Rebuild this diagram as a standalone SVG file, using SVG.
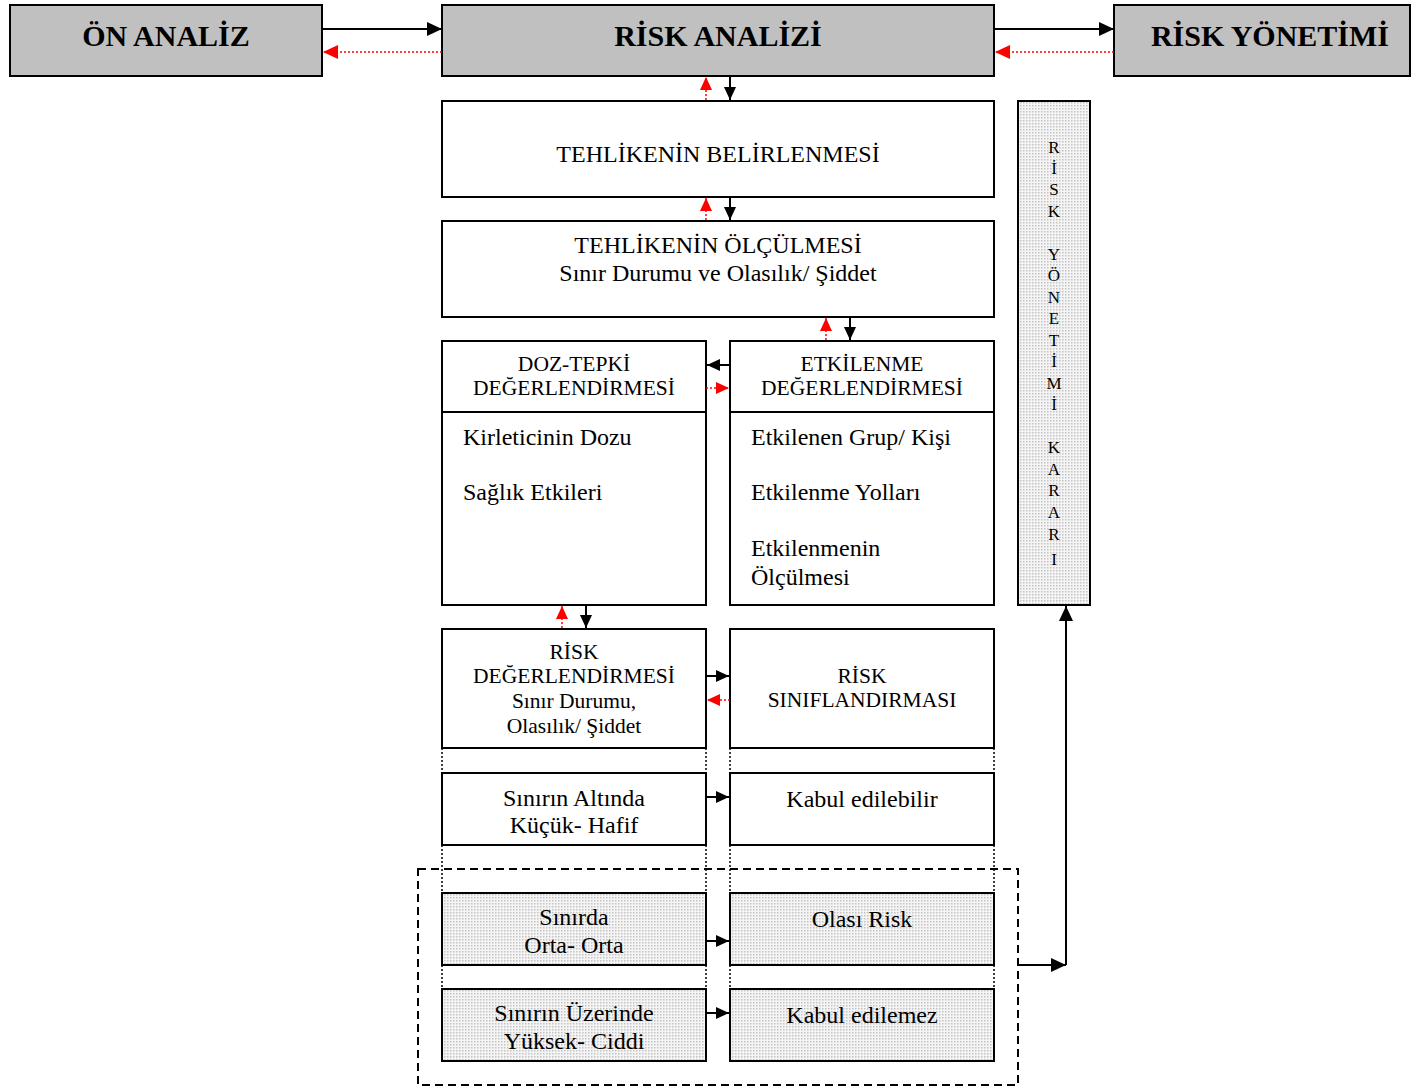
<svg xmlns="http://www.w3.org/2000/svg" width="1412" height="1087" viewBox="0 0 1412 1087">
  <defs>
    <marker id="ah" markerUnits="userSpaceOnUse" markerWidth="16" markerHeight="14" refX="15" refY="7" orient="auto">
      <path d="M0,0 L15,7 L0,14 z" fill="#000"/>
    </marker>
    <marker id="ahs" markerUnits="userSpaceOnUse" markerWidth="14" markerHeight="14" refX="13" refY="7" orient="auto">
      <path d="M0,1 L13,7 L0,13 z" fill="#000"/>
    </marker>
    <marker id="ahr" markerUnits="userSpaceOnUse" markerWidth="16" markerHeight="14" refX="15" refY="7" orient="auto">
      <path d="M0,0 L15,7 L0,14 z" fill="#ff0000"/>
    </marker>
    <marker id="ahrs" markerUnits="userSpaceOnUse" markerWidth="14" markerHeight="14" refX="13" refY="7" orient="auto">
      <path d="M0,1 L13,7 L0,13 z" fill="#ff0000"/>
    </marker>
    <pattern id="dots" width="3" height="3" patternUnits="userSpaceOnUse">
      <rect width="3" height="3" fill="#f4f4f4"/>
      <rect x="0" y="0" width="1.5" height="1.5" fill="#c4c4c4"/>
    </pattern>
  </defs>
  <style>
    .hdr { fill: #c0c0c0; stroke: #000; stroke-width: 2; }
    .box { fill: #fff; stroke: #000; stroke-width: 2; }
    .dot { fill: url(#dots); stroke: #000; stroke-width: 2; }
    .sep { stroke: #000; stroke-width: 2; fill: none; }
    .t { font-family: "Liberation Serif", "Times New Roman", serif; fill: #000; }
    .th { font-size: 30px; font-weight: bold; text-anchor: middle; }
    .tm { font-size: 24px; text-anchor: middle; }
    .ts { font-size: 21.5px; text-anchor: middle; }
    .tl { font-size: 24px; }
    .tv { font-size: 17px; text-anchor: middle; }
    .blk { stroke: #000; stroke-width: 2; fill: none; }
    .red { stroke: #ff0000; stroke-width: 1.5; stroke-dasharray: 2 2; fill: none; }
    .dotline { stroke: #000; stroke-width: 1.5; stroke-dasharray: 2 2; fill: none; }
    .dash { stroke: #000; stroke-width: 2; stroke-dasharray: 8 5; fill: none; }
  </style>

  <!-- header row -->
  <g id="on-analiz">
    <rect class="hdr" x="10" y="5" width="312" height="71"/>
    <text class="t th" x="166" y="46">ÖN ANALİZ</text>
  </g>
  <g id="risk-analizi">
    <rect class="hdr" x="442" y="5" width="552" height="71"/>
    <text class="t th" x="718" y="46">RİSK ANALİZİ</text>
  </g>
  <g id="risk-yonetimi">
    <rect class="hdr" x="1114" y="5" width="296" height="71"/>
    <text class="t th" x="1270" y="46">RİSK YÖNETİMİ</text>
  </g>

  <!-- hazard identification -->
  <g id="tehlike-belirlenmesi">
    <rect class="box" x="442" y="101" width="552" height="96"/>
    <text class="t tm" x="718" y="162">TEHLİKENİN BELİRLENMESİ</text>
  </g>
  <g id="tehlike-olculmesi">
    <rect class="box" x="442" y="221" width="552" height="96"/>
    <text class="t tm" x="718" y="253">TEHLİKENİN ÖLÇÜLMESİ</text>
    <text class="t tm" x="718" y="281">Sınır Durumu ve Olasılık/ Şiddet</text>
  </g>

  <!-- dose-response and exposure assessment -->
  <g id="doz-tepki">
    <rect class="box" x="442" y="341" width="264" height="264"/>
    <line class="sep" x1="442" y1="412" x2="706" y2="412"/>
    <text class="t ts" x="574" y="371">DOZ-TEPKİ</text>
    <text class="t ts" x="574" y="395">DEĞERLENDİRMESİ</text>
    <text class="t tl" x="463" y="445">Kirleticinin Dozu</text>
    <text class="t tl" x="463" y="500">Sağlık Etkileri</text>
  </g>
  <g id="etkilenme">
    <rect class="box" x="730" y="341" width="264" height="264"/>
    <line class="sep" x1="730" y1="412" x2="994" y2="412"/>
    <text class="t ts" x="862" y="371">ETKİLENME</text>
    <text class="t ts" x="862" y="395">DEĞERLENDİRMESİ</text>
    <text class="t tl" x="751" y="445">Etkilenen Grup/ Kişi</text>
    <text class="t tl" x="751" y="500">Etkilenme Yolları</text>
    <text class="t tl" x="751" y="556">Etkilenmenin</text>
    <text class="t tl" x="751" y="585">Ölçülmesi</text>
  </g>

  <!-- risk evaluation and classification -->
  <g id="risk-degerlendirmesi">
    <rect class="box" x="442" y="629" width="264" height="119"/>
    <text class="t ts" x="574" y="659">RİSK</text>
    <text class="t ts" x="574" y="683">DEĞERLENDİRMESİ</text>
    <text class="t ts" x="574" y="708">Sınır Durumu,</text>
    <text class="t ts" x="574" y="733">Olasılık/ Şiddet</text>
  </g>
  <g id="risk-siniflandirmasi">
    <rect class="box" x="730" y="629" width="264" height="119"/>
    <text class="t ts" x="862" y="683">RİSK</text>
    <text class="t ts" x="862" y="707">SINIFLANDIRMASI</text>
  </g>

  <!-- result levels -->
  <g id="sinirin-altinda">
    <rect class="box" x="442" y="773" width="264" height="72"/>
    <text class="t tm" x="574" y="806">Sınırın Altında</text>
    <text class="t tm" x="574" y="833">Küçük- Hafif</text>
  </g>
  <g id="kabul-edilebilir">
    <rect class="box" x="730" y="773" width="264" height="72"/>
    <text class="t tm" x="862" y="807">Kabul edilebilir</text>
  </g>
  <g id="sinirda">
    <rect class="dot" x="442" y="893" width="264" height="72"/>
    <text class="t tm" x="574" y="925">Sınırda</text>
    <text class="t tm" x="574" y="953">Orta- Orta</text>
  </g>
  <g id="olasi-risk">
    <rect class="dot" x="730" y="893" width="264" height="72"/>
    <text class="t tm" x="862" y="927">Olası Risk</text>
  </g>
  <g id="sinirin-uzerinde">
    <rect class="dot" x="442" y="989" width="264" height="72"/>
    <text class="t tm" x="574" y="1021">Sınırın Üzerinde</text>
    <text class="t tm" x="574" y="1049">Yüksek- Ciddi</text>
  </g>
  <g id="kabul-edilemez">
    <rect class="dot" x="730" y="989" width="264" height="72"/>
    <text class="t tm" x="862" y="1023">Kabul edilemez</text>
  </g>

  <!-- decision column -->
  <g id="yonetim-karari">
    <rect class="dot" x="1018" y="101" width="72" height="504"/>
    <text class="t tv" x="1054" y="153">R</text>
    <text class="t tv" x="1054" y="174">İ</text>
    <text class="t tv" x="1054" y="195">S</text>
    <text class="t tv" x="1054" y="217">K</text>
    <text class="t tv" x="1054" y="260">Y</text>
    <text class="t tv" x="1054" y="281">Ö</text>
    <text class="t tv" x="1054" y="303">N</text>
    <text class="t tv" x="1054" y="324">E</text>
    <text class="t tv" x="1054" y="346">T</text>
    <text class="t tv" x="1054" y="367">İ</text>
    <text class="t tv" x="1054" y="389">M</text>
    <text class="t tv" x="1054" y="410">İ</text>
    <text class="t tv" x="1054" y="453">K</text>
    <text class="t tv" x="1054" y="475">A</text>
    <text class="t tv" x="1054" y="496">R</text>
    <text class="t tv" x="1054" y="518">A</text>
    <text class="t tv" x="1054" y="540">R</text>
    <text class="t tv" x="1054" y="565">I</text>
  </g>

  <!-- connectors -->
  <g id="connectors">
    <!-- header flow -->
    <line class="blk" x1="322" y1="29" x2="442" y2="29" marker-end="url(#ah)"/>
    <line class="red" x1="442" y1="52" x2="323" y2="52" marker-end="url(#ahr)"/>
    <line class="blk" x1="994" y1="29" x2="1114" y2="29" marker-end="url(#ah)"/>
    <line class="red" x1="1114" y1="52" x2="995" y2="52" marker-end="url(#ahr)"/>

    <!-- vertical flow through the analysis -->
    <line class="blk" x1="730" y1="76" x2="730" y2="100" marker-end="url(#ahs)"/>
    <line class="red" x1="706" y1="100" x2="706" y2="77" marker-end="url(#ahrs)"/>
    <line class="blk" x1="730" y1="197" x2="730" y2="220" marker-end="url(#ahs)"/>
    <line class="red" x1="706" y1="220" x2="706" y2="198" marker-end="url(#ahrs)"/>
    <line class="blk" x1="850" y1="317" x2="850" y2="340" marker-end="url(#ahs)"/>
    <line class="red" x1="826" y1="340" x2="826" y2="318" marker-end="url(#ahrs)"/>
    <line class="blk" x1="586" y1="605" x2="586" y2="628" marker-end="url(#ahs)"/>
    <line class="red" x1="562" y1="628" x2="562" y2="606" marker-end="url(#ahrs)"/>

    <!-- exchange between side-by-side boxes -->
    <line class="blk" x1="730" y1="365" x2="707" y2="365" marker-end="url(#ahs)"/>
    <line class="red" x1="706" y1="388" x2="729" y2="388" marker-end="url(#ahrs)"/>
    <line class="blk" x1="706" y1="676" x2="729" y2="676" marker-end="url(#ahs)"/>
    <line class="red" x1="730" y1="700" x2="707" y2="700" marker-end="url(#ahrs)"/>
    <line class="blk" x1="706" y1="797" x2="729" y2="797" marker-end="url(#ahs)"/>
    <line class="blk" x1="706" y1="941" x2="729" y2="941" marker-end="url(#ahs)"/>
    <line class="blk" x1="706" y1="1013" x2="729" y2="1013" marker-end="url(#ahs)"/>

    <!-- dotted column guides -->
    <path class="dotline" d="M442,748 V773 M706,748 V773 M730,748 V773 M994,748 V773"/>
    <path class="dotline" d="M442,845 V893 M706,845 V893 M730,845 V893 M994,845 V893"/>
    <path class="dotline" d="M442,965 V989 M706,965 V989 M730,965 V989 M994,965 V989"/>

    <!-- dashed grouping of the upper risk levels -->
    <rect class="dash" x="418" y="869" width="600" height="216"/>

    <!-- feedback to the management decision -->
    <polyline class="blk" points="1018,965 1066,965" marker-end="url(#ah)"/>
    <polyline class="blk" points="1066,965 1066,606" marker-end="url(#ah)"/>
  </g>
</svg>
